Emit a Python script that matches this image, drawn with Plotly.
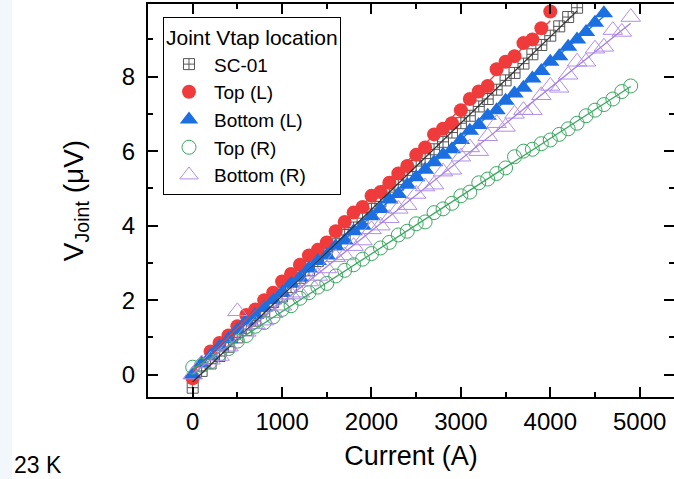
import numpy as np
import plotly.graph_objects as go

# ---------------- data ----------------
sc01_I = [0, 100, 200, 300, 400, 500, 600, 700, 800, 900, 1000, 1100, 1200, 1300, 1400,
          1500, 1600, 1700, 1800, 1900, 2000, 2100, 2200, 2300, 2400, 2500, 2600, 2700,
          2800, 2900, 3000, 3100, 3200, 3300, 3400, 3500, 3600, 3700, 3800, 3900, 4000,
          4100, 4200, 4300]
sc01_V = [-0.35, 0.1, 0.3, 0.5, 0.75, 1.0, 1.2, 1.45, 1.7, 1.95, 2.1, 2.35, 2.6, 2.8, 3.05,
          3.3, 3.5, 3.75, 3.95, 4.2, 4.45, 4.65, 4.9, 5.1, 5.35, 5.6, 5.8, 6.05,
          6.25, 6.5, 6.75, 6.95, 7.2, 7.4, 7.65, 7.9, 8.1, 8.35, 8.6, 8.85, 9.1,
          9.35, 9.6, 9.85]

topL_I = [0, 200, 300, 400, 500, 600, 700, 800, 900, 1000, 1100, 1200, 1300, 1400, 1500,
          1600, 1700, 1800, 1900, 2000, 2100, 2200, 2300, 2400, 2500, 2600, 2700, 2800,
          2900, 3000, 3100, 3200, 3300, 3400, 3500, 3600, 3700, 3800, 3900, 4000]
topL_V = [-0.1, 0.62, 0.85, 1.05, 1.3, 1.6, 1.75, 2.0, 2.2, 2.5, 2.7, 2.95, 3.2, 3.35, 3.55,
          3.85, 4.1, 4.35, 4.5, 4.8, 4.9, 5.15, 5.4, 5.6, 5.9, 6.1, 6.45, 6.6,
          6.75, 7.1, 7.4, 7.6, 7.75, 8.2, 8.4, 8.55, 8.9, 9.0, 9.3, 9.75]

botL_I = [0, 100, 200, 300, 400, 500, 600, 700, 800, 900, 1000, 1100, 1200, 1300, 1400,
          1500, 1600, 1700, 1800, 1900, 2000, 2100, 2200, 2300, 2400, 2500, 2600, 2700,
          2800, 2900, 3000, 3100, 3200, 3300, 3400, 3500, 3600, 3700, 3800, 3900, 4000,
          4100, 4200, 4300, 4400, 4500, 4600]
botL_V = [0.0, 0.3, 0.5, 0.75, 0.95, 1.2, 1.45, 1.6, 1.8, 2.0, 2.2, 2.45, 2.6, 2.85, 3.05,
          3.2, 3.45, 3.6, 3.85, 4.0, 4.25, 4.45, 4.7, 4.85, 5.1, 5.3, 5.5, 5.7,
          5.9, 6.05, 6.3, 6.55, 6.7, 6.95, 7.1, 7.35, 7.55, 7.7, 7.95, 8.15, 8.4,
          8.55, 8.8, 9.0, 9.2, 9.45, 9.7]

topR_I = [0, 100, 200, 300, 400, 500, 600, 700, 800, 900, 1000, 1100, 1200, 1300, 1400,
          1500, 1600, 1700, 1800, 1900, 2000, 2100, 2200, 2300, 2400, 2500, 2600, 2700,
          2800, 2900, 3000, 3100, 3200, 3300, 3400, 3500, 3600, 3700, 3800, 3900, 4000,
          4100, 4200, 4300, 4400, 4500, 4600, 4700, 4800, 4900]
topR_V = [0.2, 0.25, 0.35, 0.55, 0.7, 0.9, 1.05, 1.3, 1.4, 1.55, 1.75, 1.85, 2.05, 2.2, 2.35,
          2.45, 2.65, 2.8, 2.95, 3.1, 3.25, 3.4, 3.55, 3.75, 3.85, 4.05, 4.1, 4.35,
          4.45, 4.6, 4.8, 4.9, 5.15, 5.25, 5.4, 5.55, 5.85, 6.0, 6.05, 6.2, 6.3,
          6.45, 6.6, 6.75, 6.95, 7.1, 7.25, 7.4, 7.6, 7.75]

botR_I = [0, 100, 200, 300, 400, 500, 600, 700, 800, 900, 1000, 1100, 1200, 1300, 1400,
          1500, 1600, 1700, 1800, 1900, 2000, 2100, 2200, 2300, 2400, 2500, 2600, 2700,
          2800, 2900, 3000, 3100, 3200, 3300, 3400, 3500, 3600, 3700, 3800, 3900, 4000,
          4100, 4200, 4300, 4400, 4500, 4600, 4700, 4800, 4900]
botR_V = [0.0, 0.3, 0.4, 0.5, 0.75, 1.7, 1.15, 1.35, 1.45, 1.65, 1.85, 2.15, 2.2, 2.5, 2.65,
          2.85, 3.15, 3.2, 3.45, 3.6, 3.9, 4.0, 4.2, 4.45, 4.55, 4.85, 5.05, 5.1,
          5.45, 5.5, 5.85, 6.1, 6.0, 6.4, 6.75, 6.65, 7.0, 7.1, 7.1, 7.5, 7.75,
          7.7, 8.05, 8.4, 8.4, 8.75, 8.8, 9.25, 9.2, 9.6]

x_ticks = [0, 1000, 2000, 3000, 4000, 5000]
y_ticks = [0, 2, 4, 6, 8]

FONT = "Liberation Sans, Arial, sans-serif"

fig = go.Figure()

series = [
    ("SC-01", sc01_I, sc01_V, dict(symbol="square-cross-open", size=11, color="#555555",
                                   line=dict(width=1, color="#555555")), "#333333"),
    ("Top (L)", topL_I, topL_V, dict(symbol="circle", size=14, color="#ef3b3b",
                                     line=dict(width=0)), "#ef3b3b"),
    ("Bottom (L)", botL_I, botL_V, dict(symbol="triangle-up", size=16, color="#1b6fe0",
                                        line=dict(width=0)), "#1b6fe0"),
    ("Top (R)", topR_I, topR_V, dict(symbol="circle-open", size=14, color="#3aa860",
                                     line=dict(width=1, color="#3aa860")), "#3aa860"),
    ("Bottom (R)", botR_I, botR_V, dict(symbol="triangle-up-open", size=17, color="#b28ee6",
                                        line=dict(width=1, color="#b28ee6")), "#a47fe0"),
]

for name, xi, yv, mk, lc in series:
    fig.add_trace(go.Scatter(x=xi, y=yv, mode="markers", name=name, marker=mk))

# linear fits drawn on top
for name, xi, yv, mk, lc in series:
    p = np.polyfit(xi, yv, 1)
    xs = np.array([min(xi), max(xi)])
    fig.add_trace(go.Scatter(x=xs, y=np.polyval(p, xs), mode="lines",
                             line=dict(color=lc, width=1.3), showlegend=False,
                             hoverinfo="skip"))

# invisible trace for right-hand ticks
fig.add_trace(go.Scatter(x=[None], y=[None], yaxis="y2", showlegend=False))

axis_common = dict(showgrid=False, zeroline=False, ticks="inside", ticklen=10, tickwidth=2,
                   tickcolor="black", linecolor="black", linewidth=2,
                   tickfont=dict(family=FONT, size=24, color="black"))

fig.update_layout(
    width=674, height=479,
    margin=dict(l=148, r=0, t=4, b=82, autoexpand=False),
    paper_bgcolor="white", plot_bgcolor="white",
    font=dict(family=FONT, color="black"),
    xaxis=dict(range=[-500, 5384], tickvals=x_ticks, showline=True, mirror="ticks",
               automargin=False, ticklabelstandoff=2,
               minor=dict(ticks="inside", ticklen=5, tickwidth=2, tickcolor="black", dtick=500,
                          tick0=0),
               title=dict(text="Current (A)", font=dict(family=FONT, size=27), standoff=12),
               **axis_common),
    yaxis=dict(range=[-0.6, 9.95], tickvals=y_ticks, showline=True, mirror=False,
               automargin=False, ticklabelstandoff=6,
               minor=dict(ticks="inside", ticklen=5, tickwidth=2, tickcolor="black", dtick=1,
                          tick0=0),
               title=dict(text="V<sub>Joint</sub> (μV)", font=dict(family=FONT, size=28),
                          standoff=30),
               **axis_common),
    yaxis2=dict(range=[-0.6, 9.95], overlaying="y", side="right", anchor="free", position=1,
                showline=False, showgrid=False, zeroline=False, showticklabels=False,
                ticks="inside", ticklen=10, tickwidth=2, tickcolor="black", tickvals=y_ticks,
                minor=dict(ticks="inside", ticklen=5, tickwidth=2, tickcolor="black", dtick=1,
                           tick0=0)),
    legend=dict(x=0.0285, y=0.967, xanchor="left", yanchor="top",
                bgcolor="white", bordercolor="black", borderwidth=1,
                font=dict(family=FONT, size=19, color="black"),
                title=dict(text="Joint Vtap location", font=dict(family=FONT, size=21)),
                tracegroupgap=0, itemwidth=40),
    annotations=[dict(text="23 K", xref="paper", yref="paper", x=-0.258, y=-0.173,
                      xanchor="left", yanchor="middle", showarrow=False,
                      font=dict(family=FONT, size=23, color="black"))],
    shapes=[dict(type="rect", xref="paper", yref="paper", x0=-0.2814, x1=-0.2586,
                 y0=-0.21, y1=1.02, fillcolor="#f2f7fc", line=dict(width=0), layer="below")],
)

fig.write_html("out.html", config={"displayModeBar": False},
               post_script="document.body.style.margin='0';document.body.style.overflow='hidden';")
